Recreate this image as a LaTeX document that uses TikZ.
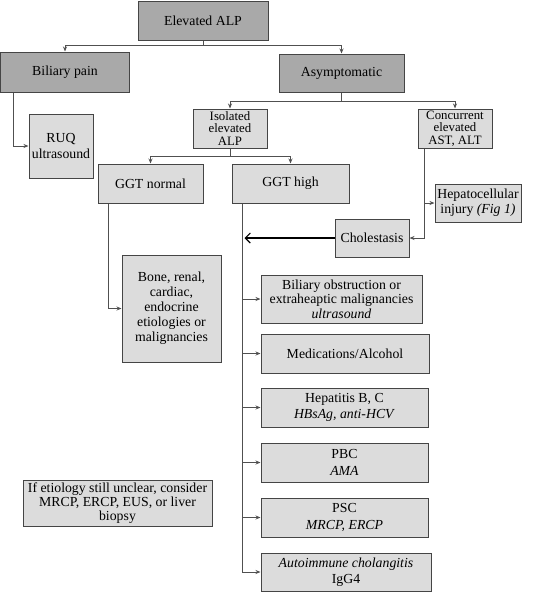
\documentclass[tikz,border=0pt]{standalone}
\usepackage{fontspec}
\setmainfont{Liberation Serif}
\usetikzlibrary{arrows.meta}
\definecolor{darkfill}{HTML}{A9A9A9}
\definecolor{lightfill}{HTML}{DCDCDC}
\definecolor{edgecol}{HTML}{454545}
\definecolor{linecol}{HTML}{505050}
\tikzset{
  box/.style={draw=edgecol, line width=1pt, inner sep=0pt, align=center,
    font=\fontsize{13.8}{13}\selectfont},
  darkbox/.style={box, fill=darkfill},
  lightbox/.style={box, fill=lightfill},
  conn/.style={draw=linecol, line width=0.9pt},
  arr/.style={conn, -{Stealth[length=5pt,width=4pt]}},
  bigarr/.style={draw=black, line width=1.1pt, -{Straight Barb[length=5pt,width=10pt]}},
}
\begin{document}
\begin{tikzpicture}[x=1pt,y=-1pt]
\useasboundingbox (0,0) rectangle (550,592);
\node[darkbox, minimum width=130, minimum height=39] (top) at (203,20.5) {Elevated ALP};
\node[darkbox, minimum width=129, minimum height=40] (bil) at (65,72) {Biliary pain};
\node[darkbox, minimum width=125, minimum height=38] (asym) at (341.5,73) {Asymptomatic};
\node[lightbox, minimum width=64, minimum height=64, font=\fontsize{13.8}{16}\selectfont] (ruq) at (61,146) {RUQ\\ultrasound};
\node[lightbox, minimum width=74, minimum height=39, font=\fontsize{12.8}{12.6}\selectfont] (iso) at (230,128.5) {Isolated\\elevated\\ALP};
\node[lightbox, minimum width=74, minimum height=39, font=\fontsize{12.8}{12.6}\selectfont] (conc) at (455,128.5) {Concurrent\\elevated\\AST, ALT};
\node[lightbox, minimum width=105, minimum height=39] (ggtn) at (150.5,183.5) {GGT normal};
\node[lightbox, minimum width=117, minimum height=39] (ggth) at (290.5,183.5) {GGT high};
\node[lightbox, minimum width=86, minimum height=38, font=\fontsize{13.8}{15}\selectfont] (hep) at (478,203) {Hepatocellular\\injury \textit{(Fig 1)}};
\node[lightbox, minimum width=74, minimum height=38] (chol) at (372,238) {Cholestasis};
\node[lightbox, minimum width=99, minimum height=107, font=\fontsize{13.8}{15}\selectfont] (bone) at (171.5,308.5) {Bone, renal,\\cardiac,\\endocrine\\etiologies or\\malignancies};
\node[lightbox, minimum width=161, minimum height=48, font=\fontsize{13.8}{14.5}\selectfont] (bo) at (341.5,299) {Biliary obstruction or\\extraheaptic malignancies\\\textit{ultrasound}};
\node[lightbox, minimum width=168, minimum height=39] (med) at (345,353.5) {Medications/Alcohol};
\node[lightbox, minimum width=167, minimum height=39, font=\fontsize{13.8}{16.5}\selectfont] (hepb) at (344.5,407.5) {Hepatitis B, C\\\textit{HBsAg, anti-HCV}};
\node[lightbox, minimum width=167, minimum height=39, font=\fontsize{13.8}{16.5}\selectfont] (pbc) at (344.5,462.5) {PBC\\\textit{AMA}};
\node[lightbox, minimum width=167, minimum height=39, font=\fontsize{13.8}{16.5}\selectfont] (psc) at (344.5,517.5) {PSC\\\textit{MRCP, ERCP}};
\node[lightbox, minimum width=170, minimum height=38, font=\fontsize{13.8}{16}\selectfont] (aic) at (346,572) {\textit{Autoimmune cholangitis}\\IgG4};
\node[lightbox, minimum width=189, minimum height=46, font=\fontsize{13.8}{14}\selectfont] (etio) at (117.5,503) {If etiology still unclear, consider\\MRCP, ERCP, EUS, or liver\\biopsy};
% connectors
\draw[conn] (top.south) -- ++(0,5) coordinate (j1);
\draw[arr] (j1) -| (bil.north);
\draw[arr] (j1) -| (asym.north);
\draw[arr] ([xshift=13pt]bil.south west) |- (ruq.west);
\draw[conn] (asym.south) -- ++(0,9) coordinate (j2);
\draw[arr] (j2) -| (iso.north);
\draw[arr] (j2) -| (conc.north);
\draw[conn] (iso.south) -- ++(0,8) coordinate (j3);
\draw[arr] (j3) -| (ggtn.north);
\draw[arr] (j3) -| (ggth.north);
\draw[arr] ([xshift=7pt]conc.south west) |- (chol.east);
\draw[arr] ([xshift=7pt]conc.south west) |- (hep.west);
\draw[arr] ([xshift=11pt]ggtn.south west) |- (bone.west);
\coordinate (v) at ([xshift=11pt]ggth.south west);
\draw[arr] (v) |- (aic.west);
\draw[arr] (v |- bo.west) -- (bo.west);
\draw[arr] (v |- med.west) -- (med.west);
\draw[arr] (v |- hepb.west) -- (hepb.west);
\draw[arr] (v |- pbc.west) -- (pbc.west);
\draw[arr] (v |- psc.west) -- (psc.west);
\coordinate (cholend) at ([xshift=2pt]v |- chol.west);
\draw[bigarr] (chol.west) -- (cholend);
\end{tikzpicture}
\end{document}
